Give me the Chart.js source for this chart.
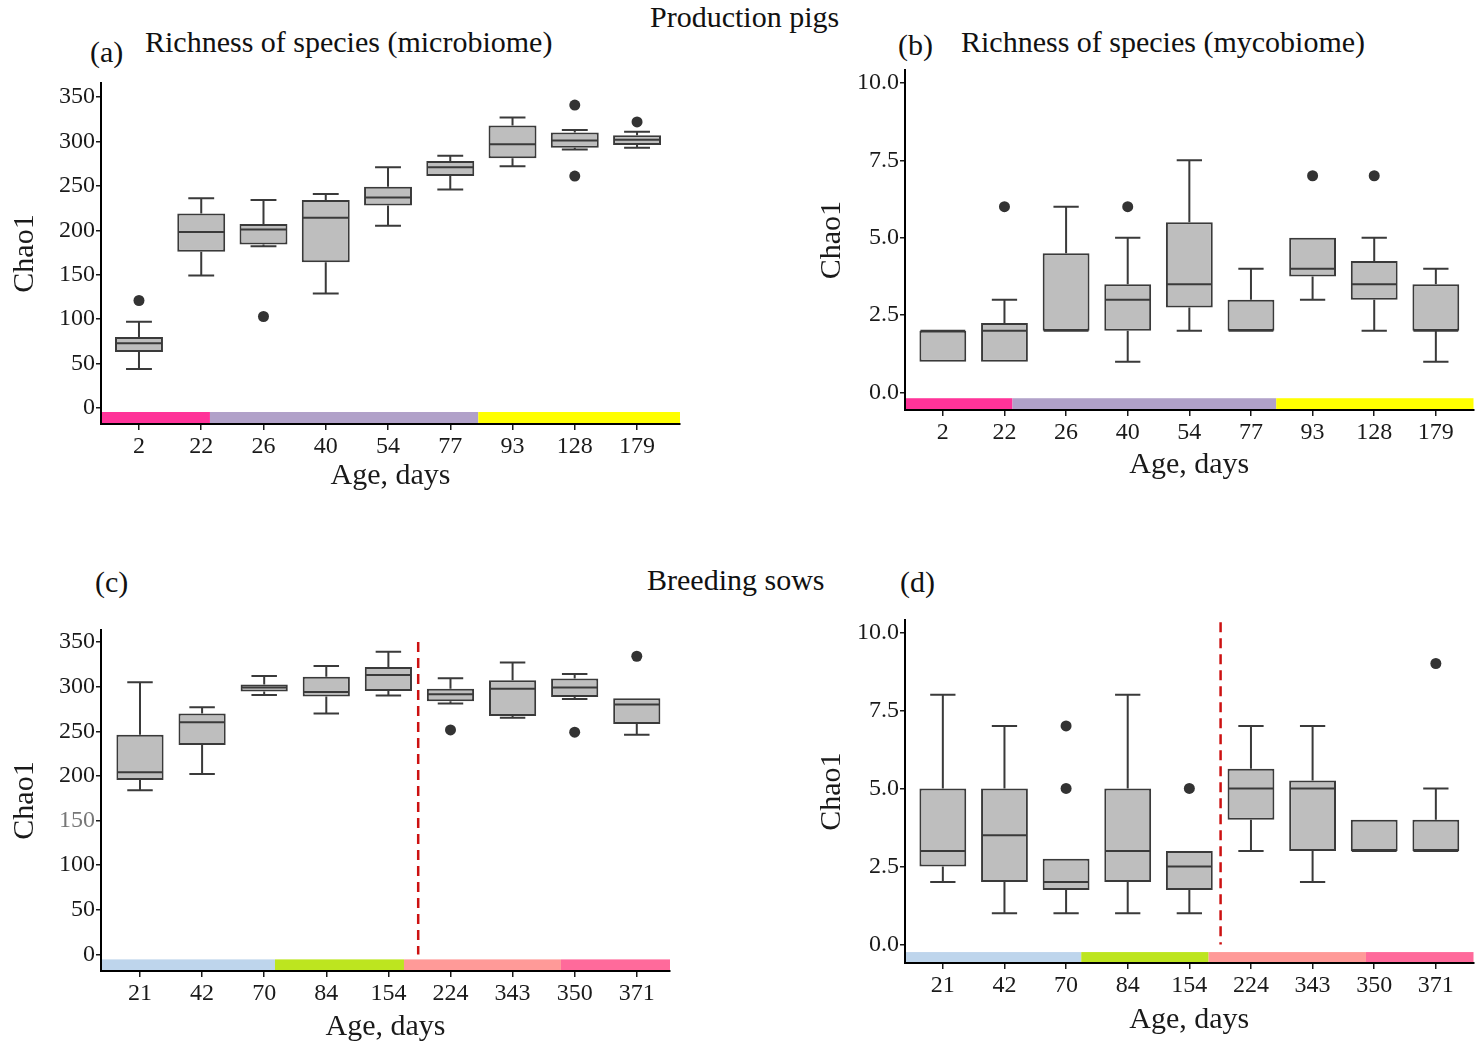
<!DOCTYPE html>
<html>
<head>
<meta charset="utf-8">
<title>Chao1 richness – production pigs and breeding sows</title>
<script src="https://cdn.jsdelivr.net/npm/chart.js@4.4.1/dist/chart.umd.min.js"></script>
<style>
  html, body { margin: 0; padding: 0; background: #fff; width: 1479px; height: 1045px; overflow: hidden; }
  .panel { position: absolute; }
  .txt { position: absolute; font-family: "Liberation Serif", "Times New Roman", serif; color: #111;
         white-space: nowrap; line-height: 1; font-size: 30px; }
</style>
</head>
<body>

<div class="txt" style="left:650px; top:2px;">Production pigs</div>
<div class="txt" style="left:90px; top:37px;">(a)</div>
<div class="txt" style="left:145px; top:27px;">Richness of species (microbiome)</div>
<div class="txt" style="left:898px; top:30px;">(b)</div>
<div class="txt" style="left:961px; top:27px;">Richness of species (mycobiome)</div>
<div class="txt" style="left:95px; top:567px;">(c)</div>
<div class="txt" style="left:647px; top:565px;">Breeding sows</div>
<div class="txt" style="left:900px; top:567px;">(d)</div>

<canvas id="chartA" class="panel"></canvas>
<canvas id="chartB" class="panel"></canvas>
<canvas id="chartC" class="panel"></canvas>
<canvas id="chartD" class="panel"></canvas>

<script>
// ---------- categories (age, days) ----------
const pigAges = ['2', '22', '26', '40', '54', '77', '93', '128', '179'];
const sowAges = ['21', '42', '70', '84', '154', '224', '343', '350', '371'];

// ---------- y tick labels ----------
const microTicks = [0, 50, 100, 150, 200, 250, 300, 350];
const microTickLabels = ['0', '50', '100', '150', '200', '250', '300', '350'];
const mycoTicks = [0, 2.5, 5, 7.5, 10];
const mycoTickLabels = ['0.0', '2.5', '5.0', '7.5', '10.0'];

// ---------- (a) microbiome, production pigs ----------
const pigMicroLow      = [44, 149, 182, 129, 205, 246, 272, 291, 293];
const pigMicroQ1       = [63, 176, 184, 164, 228, 261, 281, 293, 296];
const pigMicroMedian   = [73, 198, 201, 214, 237, 271, 297, 301, 302];
const pigMicroQ3       = [80, 219, 207, 234, 249, 278, 318, 310, 307];
const pigMicroHigh     = [97, 236, 234, 241, 271, 284, 327, 313, 311];
const pigMicroOutliers = [[121], [], [103], [], [], [], [], [341, 261], [322]];

// ---------- (b) mycobiome, production pigs ----------
const pigMycoLow      = [1, 1, 2, 1, 2, 2, 3, 2, 1];
const pigMycoQ1       = [1, 1, 2, 2, 2.75, 2, 3.75, 3, 2];
const pigMycoMedian   = [2, 2, 2, 3, 3.5, 2, 4, 3.5, 2];
const pigMycoQ3       = [2, 2.25, 4.5, 3.5, 5.5, 3, 5, 4.25, 3.5];
const pigMycoHigh     = [2, 3, 6, 5, 7.5, 4, 5, 5, 4];
const pigMycoOutliers = [[], [6], [], [6], [], [], [7], [7], []];

// ---------- (c) microbiome, breeding sows ----------
const sowMicroLow      = [184, 202, 290.5, 270, 290, 281, 265, 286, 246];
const sowMicroQ1       = [195.5, 234.5, 294.5, 289, 295, 283.5, 267, 288.5, 258];
const sowMicroMedian   = [204, 260, 299, 294, 313, 291.5, 297.5, 299, 280];
const sowMicroQ3       = [246, 270, 302.5, 311, 322, 297.5, 307, 309, 287];
const sowMicroHigh     = [305, 277, 312, 323, 339, 309.5, 327, 314, 287];
const sowMicroOutliers = [[], [], [], [], [], [251.5], [], [249], [334]];

// ---------- (d) mycobiome, breeding sows ----------
const sowMycoLow      = [2, 1, 1, 1, 1, 3, 2, 3, 3];
const sowMycoQ1       = [2.5, 2, 1.75, 2, 1.75, 4, 3, 3, 3];
const sowMycoMedian   = [3, 3.5, 2, 3, 2.5, 5, 5, 3, 3];
const sowMycoQ3       = [5, 5, 2.75, 5, 3, 5.63, 5.25, 4, 4];
const sowMycoHigh     = [8, 7, 2.75, 8, 3, 7, 7, 4, 5];
const sowMycoOutliers = [[], [], [5, 7], [], [5], [], [], [], [9]];

// ---------- production phase strips ----------
const pigPhaseColors = ['#ff3399', '#b1a1c9', '#ffff00'];
const sowPhaseColors = ['#bed5ec', '#bde51f', '#ff9a98', '#ff6a9b'];

const FONT = "'Liberation Serif', 'Times New Roman', serif";
const INK = '#1a1a1a';
const BOX_LINE = '#3a3a3a';

// Whiskers, medians, phase strip and the dashed divider, all placed through the chart scales
const boxExtras = {
  id: 'boxExtras',
  beforeDraw(chart, args, o) {
    const { ctx, chartArea, scales: { x, y } } = chart;
    const top = y.getPixelForValue(o.stripTop);
    const edges = [x.min, ...o.stripBreaks, x.max];
    ctx.save();
    o.stripColors.forEach((c, i) => {
      const x0 = x.getPixelForValue(edges[i]);
      const x1 = x.getPixelForValue(edges[i + 1]);
      ctx.fillStyle = c;
      ctx.fillRect(x0, top, x1 - x0, chartArea.bottom - top);
    });
    ctx.restore();
  },
  beforeDatasetsDraw(chart, args, o) {
    const { ctx, scales: { y } } = chart;
    const bars = chart.getDatasetMeta(0).data;
    ctx.save();
    ctx.strokeStyle = BOX_LINE;
    ctx.lineWidth = 2;
    bars.forEach((bar, i) => {
      const cap = bar.width * 0.27;
      const seg = (from, to) => {
        if (from === to) return;
        const y0 = y.getPixelForValue(from), y1 = y.getPixelForValue(to);
        ctx.beginPath();
        ctx.moveTo(bar.x, y0); ctx.lineTo(bar.x, y1);
        ctx.moveTo(bar.x - cap, y1); ctx.lineTo(bar.x + cap, y1);
        ctx.stroke();
      };
      seg(o.q3[i], o.high[i]);
      seg(o.q1[i], o.low[i]);
    });
    ctx.restore();
  },
  afterDatasetsDraw(chart, args, o) {
    const { ctx, scales: { x, y } } = chart;
    const bars = chart.getDatasetMeta(0).data;
    ctx.save();
    ctx.strokeStyle = BOX_LINE;
    ctx.lineWidth = 2;
    bars.forEach((bar, i) => {
      const ym = y.getPixelForValue(o.median[i]);
      ctx.beginPath();
      ctx.moveTo(bar.x - bar.width / 2 + 1, ym);
      ctx.lineTo(bar.x + bar.width / 2 - 1, ym);
      ctx.stroke();
    });
    if (o.divider) {
      const xd = x.getPixelForValue(o.divider.at);
      ctx.strokeStyle = '#cc1111';
      ctx.lineWidth = 2.5;
      ctx.setLineDash([10, 6]);
      ctx.beginPath();
      ctx.moveTo(xd, y.getPixelForValue(o.divider.to));
      ctx.lineTo(xd, y.getPixelForValue(o.divider.from));
      ctx.stroke();
    }
    ctx.restore();
  }
};

function makePanel(cfg) {
  const canvas = document.getElementById(cfg.id);
  const c = cfg.canvas, a = cfg.area;
  canvas.style.left = c.left + 'px';
  canvas.style.top = c.top + 'px';
  canvas.style.width = c.width + 'px';
  canvas.style.height = c.height + 'px';
  canvas.width = c.width;
  canvas.height = c.height;

  const boxes = cfg.labels.map((_, i) => ({ x: i, y: [cfg.q1[i], cfg.q3[i]] }));
  const outliers = [];
  cfg.outliers.forEach((list, i) => list.forEach(v => outliers.push({ x: i, y: v })));

  new Chart(canvas, {
    type: 'bar',
    data: {
      datasets: [
        {
          type: 'bar',
          data: boxes,
          backgroundColor: '#bebebe',
          borderColor: BOX_LINE,
          borderWidth: 2,
          borderSkipped: false,
          categoryPercentage: 1,
          barPercentage: cfg.boxRatio
        },
        {
          type: 'scatter',
          data: outliers,
          pointRadius: 5.5,
          pointBackgroundColor: '#333',
          pointBorderWidth: 0
        }
      ]
    },
    options: {
      responsive: false,
      animation: false,
      devicePixelRatio: 1,
      layout: { padding: { top: a.top - c.top, right: c.left + c.width - a.right, left: 0, bottom: 0 } },
      plugins: {
        legend: { display: false },
        tooltip: { enabled: false },
        boxExtras: {
          low: cfg.low, q1: cfg.q1, median: cfg.median, q3: cfg.q3, high: cfg.high,
          stripTop: cfg.stripTop, stripBreaks: cfg.stripBreaks, stripColors: cfg.stripColors,
          divider: cfg.divider || null
        }
      },
      scales: {
        x: {
          type: 'linear',
          offset: false,
          min: cfg.xRange[0], max: cfg.xRange[1],
          afterBuildTicks: s => { s.ticks = cfg.labels.map((_, i) => ({ value: i })); },
          afterFit: s => { s.height = c.top + c.height - a.bottom; },
          ticks: {
            callback: v => cfg.labels[v],
            font: { family: FONT, size: 24 }, color: INK,
            padding: 2, maxRotation: 0, autoSkip: false
          },
          grid: { offset: false, drawOnChartArea: false, drawTicks: true, tickLength: 6, color: INK, lineWidth: 1.5 },
          border: { display: true, color: '#000', width: 2 },
          title: {
            display: true, text: 'Age, days', color: INK,
            font: { family: FONT, size: 30 }, padding: { top: 0, bottom: cfg.xTitlePad }
          }
        },
        y: {
          type: 'linear',
          min: cfg.yRange[0], max: cfg.yRange[1],
          afterBuildTicks: s => { s.ticks = cfg.yTicks.map(v => ({ value: v })); },
          afterFit: s => { s.width = a.left - c.left; },
          ticks: {
            callback: v => cfg.yTickLabels[cfg.yTicks.indexOf(v)],
            font: { family: FONT, size: 24 },
            color: ctx => (cfg.greyTick !== undefined && ctx.tick && ctx.tick.value === cfg.greyTick) ? '#777' : INK,
            padding: 1
          },
          grid: { drawOnChartArea: false, drawTicks: true, tickLength: 5, color: INK, lineWidth: 1.5 },
          border: { display: true, color: '#000', width: 2 },
          title: {
            display: true, text: 'Chao1', color: INK,
            font: { family: FONT, size: 30 }, padding: { top: cfg.yTitlePad, bottom: 0 }
          }
        }
      }
    },
    plugins: [boxExtras]
  });
}

makePanel({
  id: 'chartA', labels: pigAges,
  canvas: { left: 0, top: 60, width: 740, height: 440 },
  area: { left: 101, right: 680, top: 83, bottom: 424 },
  xRange: [-0.61, 8.69], yRange: [-18, 365.8],
  yTicks: microTicks, yTickLabels: microTickLabels,
  low: pigMicroLow, q1: pigMicroQ1, median: pigMicroMedian, q3: pigMicroQ3, high: pigMicroHigh,
  outliers: pigMicroOutliers, boxRatio: 0.77,
  stripTop: -4.5, stripBreaks: [1.14, 5.45], stripColors: pigPhaseColors,
  xTitlePad: 6, yTitlePad: 7
});

makePanel({
  id: 'chartB', labels: pigAges,
  canvas: { left: 800, top: 55, width: 679, height: 445 },
  area: { left: 905, right: 1476, top: 68, bottom: 410 },
  xRange: [-0.614, 8.611], yRange: [-0.56, 10.4],
  yTicks: mycoTicks, yTickLabels: mycoTickLabels,
  low: pigMycoLow, q1: pigMycoQ1, median: pigMycoMedian, q3: pigMycoQ3, high: pigMycoHigh,
  outliers: pigMycoOutliers, boxRatio: 0.76,
  stripTop: -0.18, stripBreaks: [1.13, 5.41], stripColors: pigPhaseColors,
  xTitlePad: 17, yTitlePad: 14
});

makePanel({
  id: 'chartC', labels: sowAges,
  canvas: { left: 0, top: 610, width: 740, height: 435 },
  area: { left: 101, right: 670, top: 630, bottom: 971 },
  xRange: [-0.628, 8.535], yRange: [-18.5, 363.4],
  yTicks: microTicks, yTickLabels: microTickLabels, greyTick: 150,
  low: sowMicroLow, q1: sowMicroQ1, median: sowMicroMedian, q3: sowMicroQ3, high: sowMicroHigh,
  outliers: sowMicroOutliers, boxRatio: 0.76,
  stripTop: -5.5, stripBreaks: [2.174, 4.251, 6.779], stripColors: sowPhaseColors,
  divider: { at: 4.48, from: 0, to: 350 },
  xTitlePad: 0, yTitlePad: 7
});

makePanel({
  id: 'chartD', labels: sowAges,
  canvas: { left: 800, top: 605, width: 679, height: 440 },
  area: { left: 905, right: 1476, top: 620, bottom: 963 },
  xRange: [-0.614, 8.611], yRange: [-0.59, 10.38],
  yTicks: mycoTicks, yTickLabels: mycoTickLabels,
  low: sowMycoLow, q1: sowMycoQ1, median: sowMycoMedian, q3: sowMycoQ3, high: sowMycoHigh,
  outliers: sowMycoOutliers, boxRatio: 0.76,
  stripTop: -0.24, stripBreaks: [2.246, 4.313, 6.866], stripColors: sowPhaseColors,
  divider: { at: 4.507, from: 0, to: 10.32 },
  xTitlePad: 7, yTitlePad: 14
});
</script>
</body>
</html>
